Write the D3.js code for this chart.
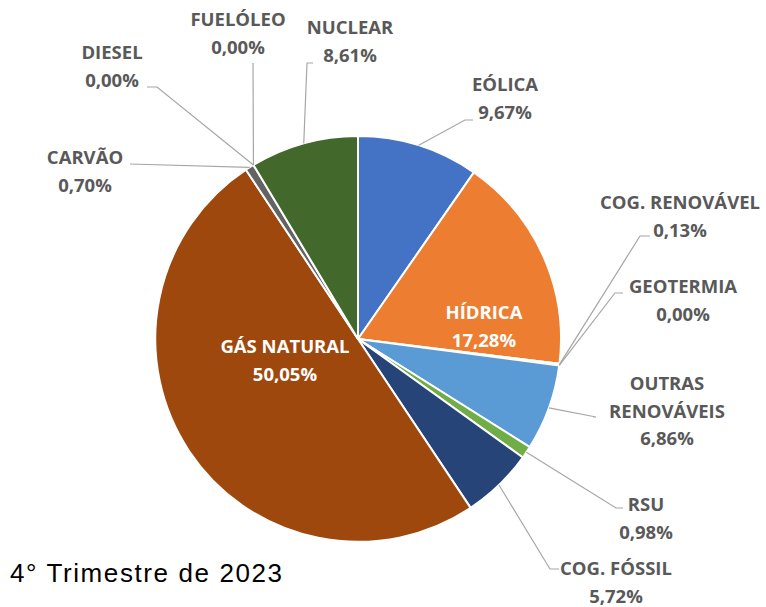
<!DOCTYPE html>
<html>
<head>
<meta charset="utf-8">
<script src="https://cdn.jsdelivr.net/npm/d3@7"></script>
<style>
  body { margin: 0; background: #fff; }
  svg { display: block; }
</style>
</head>
<body>
<div id="chart"></div>
<script>
// Fontes de produção de energia, 4º trimestre 2023
const categories = ['EÓLICA', 'HÍDRICA', 'COG. RENOVÁVEL', 'GEOTERMIA', 'OUTRAS RENOVÁVEIS',
  'RSU', 'COG. FÓSSIL', 'GÁS NATURAL', 'CARVÃO', 'DIESEL', 'FUELÓLEO', 'NUCLEAR']
const shares = [9.67, 17.28, 0.13, 0.00, 6.86, 0.98, 5.72, 50.05, 0.70, 0.00, 0.00, 8.61]
const colors = ['#4472C4', '#ED7D31', '#A5A5A5', '#FFC000', '#5B9BD5', '#70AD47',
  '#264478', '#9E480E', '#636363', '#997300', '#255E91', '#43682B']
const title = '4° Trimestre de 2023'

// label layout (text lines centre, leader elbow and end)
const labelLayout = {
  'EÓLICA':            { x: 505, y: 85,  lines: ['EÓLICA'], elbow: [465, 120], end: [473, 120] },
  'HÍDRICA':           { x: 484, y: 313, lines: ['HÍDRICA'], inside: true },
  'COG. RENOVÁVEL':    { x: 680, y: 203, lines: ['COG. RENOVÁVEL'], elbow: [640, 236], end: [650, 236] },
  'GEOTERMIA':         { x: 683, y: 287, lines: ['GEOTERMIA'], elbow: [615, 293], end: [623, 293] },
  'OUTRAS RENOVÁVEIS': { x: 667, y: 384, lines: ['OUTRAS', 'RENOVÁVEIS'], elbow: [596, 417], end: [593, 417] },
  'RSU':               { x: 646, y: 505, lines: ['RSU'], elbow: [616, 508], end: [623, 508] },
  'COG. FÓSSIL':       { x: 616, y: 569, lines: ['COG. FÓSSIL'], elbow: [550, 569], end: [559, 569] },
  'GÁS NATURAL':       { x: 285, y: 347, lines: ['GÁS NATURAL'], inside: true },
  'CARVÃO':            { x: 85,  y: 158, lines: ['CARVÃO'], elbow: [130, 164], end: [130, 164] },
  'DIESEL':            { x: 112, y: 53,  lines: ['DIESEL'], elbow: [157, 87], end: [147, 87] },
  'FUELÓLEO':          { x: 238, y: 20,  lines: ['FUELÓLEO'], elbow: [253, 63], end: [253, 63] },
  'NUCLEAR':           { x: 350, y: 28,  lines: ['NUCLEAR'], elbow: [307, 63], end: [313, 63] }
}

const width = 766
const height = 607
const cx = 358
const cy = 339
const radius = 203

const data = categories.map((name, i) => ({ name, value: shares[i], color: colors[i] }))

const svg = d3.select('#chart')
  .append('svg')
  .attr('width', width)
  .attr('height', height)

const pie = d3.pie()
  .value(d => d.value)
  .sort(null)
  .startAngle(0)
  .endAngle(2 * Math.PI)

const arc = d3.arc()
  .innerRadius(0)
  .outerRadius(radius)

const arcs = pie(data)

const g = svg.append('g')
  .attr('transform', `translate(${cx},${cy})`)

// Slices
g.selectAll('path.slice')
  .data(arcs.filter(d => d.data.value > 0))
  .join('path')
  .attr('class', 'slice')
  .attr('d', arc)
  .attr('fill', d => d.data.color)
  .attr('stroke', '#fff')
  .attr('stroke-width', 2)
  .attr('stroke-linejoin', 'round')

// Leader lines
arcs.forEach(d => {
  const lay = labelLayout[d.data.name]
  if (lay.inside) return
  const mid = (d.startAngle + d.endAngle) / 2
  const sx = cx + radius * Math.sin(mid)
  const sy = cy - radius * Math.cos(mid)
  const pts = [[sx, sy], lay.elbow, lay.end]
  svg.append('path')
    .attr('d', d3.line()(pts))
    .attr('fill', 'none')
    .attr('stroke', '#A6A6A6')
    .attr('stroke-width', 1.2)
})

// Labels
const fmt = v => v.toFixed(2).replace('.', ',') + '%'

arcs.forEach(d => {
  const lay = labelLayout[d.data.name]
  const lines = lay.lines.concat([fmt(d.data.value)])
  const t = svg.append('text')
    .attr('text-anchor', 'middle')
    .attr('font-family', '"Open Sans", sans-serif')
    .attr('font-weight', 700)
    .attr('font-size', '18.5px')
    .attr('fill', lay.inside ? '#fff' : '#595959')
  lines.forEach((ln, i) => {
    t.append('tspan')
      .attr('x', lay.x)
      .attr('y', lay.y + i * 27.5)
      .attr('dy', '0.35em')
      .text(ln)
  })
})

// Title
svg.append('text')
  .attr('x', 10)
  .attr('y', 582)
  .attr('font-family', '"Liberation Sans", Arial, sans-serif')
  .attr('font-size', '26px')
  .attr('letter-spacing', '1.6px')
  .attr('fill', '#000')
  .text(title)
</script>
</body>
</html>
